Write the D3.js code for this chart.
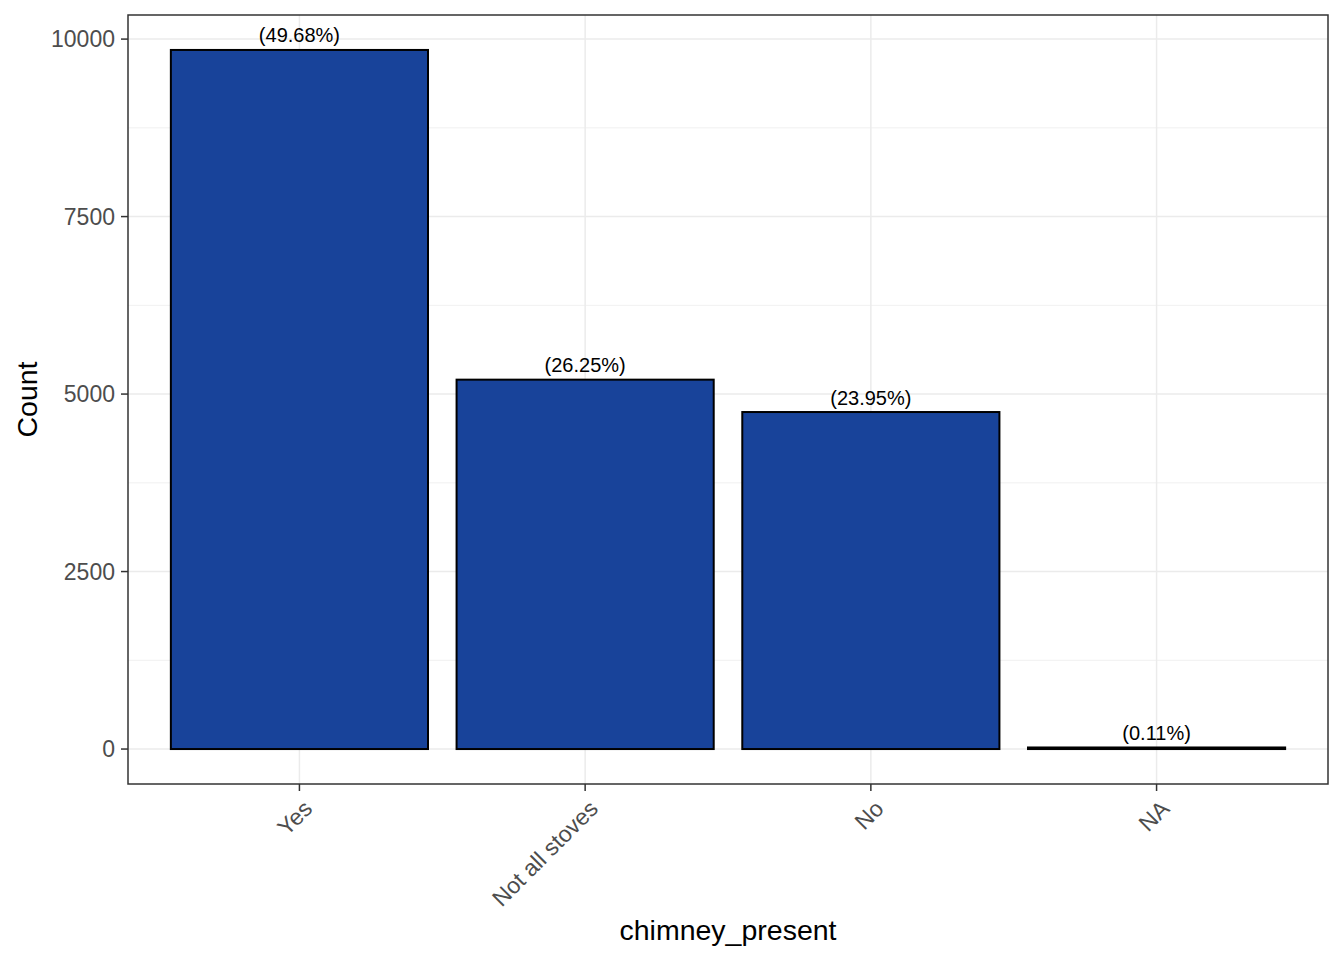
<!DOCTYPE html>
<html><head><meta charset="utf-8">
<script src="https://cdn.jsdelivr.net/npm/d3@7"></script>
<style>body{margin:0;background:#fff;} text{font-family:"Liberation Sans",Arial,sans-serif;}</style>
</head><body>
<svg id="c" width="1344" height="960"></svg>
<script>
const categories = ["Yes", "Not all stoves", "No", "NA"];
const counts = [9847, 5203, 4747, 22];
const percentLabels = ["(49.68%)", "(26.25%)", "(23.95%)", "(0.11%)"];
const yTicks = [0, 2500, 5000, 7500, 10000];
const yMinor = [1250, 3750, 6250, 8750];

const svg = d3.select("#c");
const L = 128, R = 1328, T = 15, B = 784;
const maxV = d3.max(counts);
const pad = maxV * 0.05;
const y = d3.scaleLinear().domain([-pad, maxV + pad]).range([B, T]);
const x = d3.scaleLinear().domain([0.4, categories.length + 0.6]).range([L, R]);

const g = svg.append("g");
// minor grid
g.selectAll(".ym").data(yMinor).enter().append("line")
  .attr("x1", L).attr("x2", R).attr("y1", d => y(d)).attr("y2", d => y(d))
  .attr("stroke", "#EBEBEB").attr("stroke-width", 0.75);
// major grid
g.selectAll(".yM").data(yTicks).enter().append("line")
  .attr("x1", L).attr("x2", R).attr("y1", d => y(d)).attr("y2", d => y(d))
  .attr("stroke", "#EBEBEB").attr("stroke-width", 1.5);
g.selectAll(".xM").data(categories).enter().append("line")
  .attr("x1", (d, i) => x(i + 1)).attr("x2", (d, i) => x(i + 1)).attr("y1", T).attr("y2", B)
  .attr("stroke", "#EBEBEB").attr("stroke-width", 1.5);

// bars
const bw = x(1.45) - x(0.55);
g.selectAll(".bar").data(counts).enter().append("rect")
  .attr("x", (d, i) => x(i + 1) - bw / 2)
  .attr("width", bw)
  .attr("y", d => y(d))
  .attr("height", d => y(0) - y(d))
  .attr("fill", "#18439A").attr("stroke", "#000").attr("stroke-width", 2);

// labels
g.selectAll(".lbl").data(counts).enter().append("text")
  .attr("x", (d, i) => x(i + 1)).attr("y", d => y(d) - 7.5)
  .attr("text-anchor", "middle").attr("font-size", 20).attr("fill", "#000")
  .text((d, i) => percentLabels[i]);

// panel border
svg.append("rect").attr("x", L).attr("y", T).attr("width", R - L).attr("height", B - T)
  .attr("fill", "none").attr("stroke", "#333333").attr("stroke-width", 1.5);

// y axis
const ya = svg.append("g");
ya.selectAll("line").data(yTicks).enter().append("line")
  .attr("x1", L - 7).attr("x2", L).attr("y1", d => y(d)).attr("y2", d => y(d))
  .attr("stroke", "#333333").attr("stroke-width", 1.5);
ya.selectAll("text").data(yTicks).enter().append("text")
  .attr("x", L - 13).attr("y", d => y(d)).attr("dy", "0.35em")
  .attr("text-anchor", "end").attr("font-size", 23).attr("fill", "#4D4D4D")
  .text(d => d);

// x axis
const xa = svg.append("g");
xa.selectAll("line").data(categories).enter().append("line")
  .attr("x1", (d, i) => x(i + 1)).attr("x2", (d, i) => x(i + 1)).attr("y1", B).attr("y2", B + 7)
  .attr("stroke", "#333333").attr("stroke-width", 1.5);
xa.selectAll("text").data(categories).enter().append("text")
  .attr("transform", (d, i) => `translate(${x(i + 1) + 2},${B + 14}) rotate(-45)`)
  .attr("text-anchor", "end").attr("dy", "0.75em").attr("font-size", 23).attr("fill", "#4D4D4D")
  .text(d => d);

// titles
svg.append("text").attr("x", (L + R) / 2).attr("y", 940).attr("text-anchor", "middle")
  .attr("font-size", 28.5).attr("fill", "#000").text("chimney_present");
svg.append("text").attr("transform", `translate(37,${(T + B) / 2}) rotate(-90)`)
  .attr("text-anchor", "middle").attr("font-size", 28.5).attr("fill", "#000").text("Count");
</script>
</body></html>
